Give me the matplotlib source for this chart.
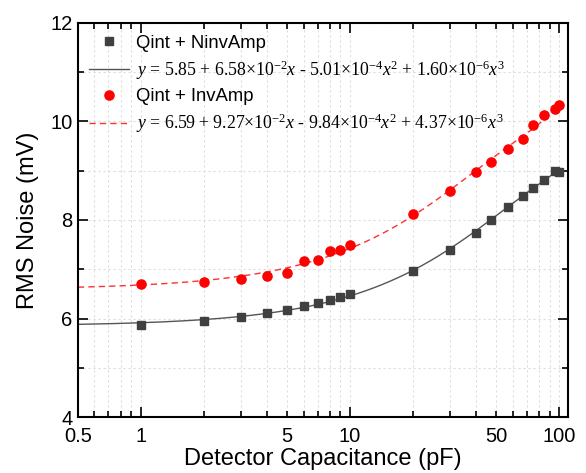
import numpy as np
import matplotlib
matplotlib.use("Agg")
import matplotlib.pyplot as plt
from matplotlib.ticker import LogLocator, FixedLocator, FuncFormatter

plt.rcParams.update({"font.family": "Liberation Sans"})
plt.rcParams.update({"mathtext.fontset": "custom",
                     "mathtext.rm": "Liberation Serif",
                     "mathtext.it": "Liberation Serif:italic"})

# detector capacitance (pF)
cap = [1, 2, 3, 4, 5, 6, 7, 8, 9, 10, 20, 30, 40, 47, 57, 67, 75, 85, 95, 100]
# RMS noise (mV)
noise_ninv = [5.87, 5.95, 6.03, 6.12, 6.17, 6.25, 6.31, 6.38, 6.43, 6.50,
              6.97, 7.40, 7.74, 8.00, 8.27, 8.49, 8.65, 8.82, 9.00, 8.97]
noise_inv = [6.70, 6.75, 6.81, 6.86, 6.92, 7.17, 7.19, 7.37, 7.40, 7.50,
             8.13, 8.59, 8.97, 9.17, 9.44, 9.65, 9.93, 10.12, 10.26, 10.34]

# cubic fit coefficients (a0, a1, a2, a3)
fit_ninv = [5.85, 6.58e-2, -5.01e-4, 1.60e-6]
fit_inv = [6.59, 9.27e-2, -9.84e-4, 4.37e-6]

lab_ninv = "Qint + NinvAmp"
lab_inv = "Qint + InvAmp"
eq_ninv = r"$y$ = 5.85 + 6.58×$10^{-2}x$ - 5.01×$10^{-4}x^{2}$ + 1.60×$10^{-6}x^{3}$"
eq_inv = r"$y$ = 6.59 + 9.27×$10^{-2}x$ - 9.84×$10^{-4}x^{2}$ + 4.37×$10^{-6}x^{3}$"

fig = plt.figure(figsize=(5.86, 4.73), dpi=100)
ax = fig.add_axes([0.133, 0.118, 0.836, 0.834])

xx = np.logspace(np.log10(0.5), 2, 300)
yn = np.polyval(fit_ninv[::-1], xx)
yi = np.polyval(fit_inv[::-1], xx)

ax.plot(cap, noise_ninv, "s", color="#404040", ms=5.8, label=lab_ninv, zorder=3)
ax.plot(xx, yn, "-", color="#555555", lw=1.0, label=eq_ninv, zorder=2)
ax.plot(cap, noise_inv, "o", color="#ff0000", ms=6.6, label=lab_inv, zorder=3)
ax.plot(xx, yi, "--", color="#ff3030", lw=1.0, dashes=(4.5, 3), label=eq_inv, zorder=2)

ax.set_xscale("log")
ax.set_xlim(0.5, 110)
ax.set_ylim(4, 12)

ax.xaxis.set_major_locator(FixedLocator([1, 10, 100]))
ax.xaxis.set_minor_locator(LogLocator(base=10, subs=np.arange(2, 10)))
ax.xaxis.set_major_formatter(FuncFormatter(lambda v, p: "%g" % v))
ax.xaxis.set_minor_formatter(FuncFormatter(lambda v, p: "%g" % v if round(v / 10 ** np.floor(np.log10(v)), 3) == 5 else ""))
ax.yaxis.set_major_locator(FixedLocator([4, 6, 8, 10, 12]))
ax.yaxis.set_minor_locator(FixedLocator([5, 7, 9, 11]))

ax.tick_params(which="both", direction="in", top=True, right=True, labelsize=14.5, width=1.2)
ax.tick_params(axis="x", which="both", pad=7)
ax.tick_params(axis="y", which="both", pad=4)
ax.tick_params(which="major", length=7)
ax.tick_params(which="minor", length=4)
for s in ax.spines.values():
    s.set_linewidth(1.5)

ax.grid(which="both", color="#dddddd", linestyle=(0, (2, 2.5)), linewidth=0.8)
ax.set_axisbelow(True)

ax.set_xlabel("Detector Capacitance (pF)", fontsize=17, labelpad=1.5)
ax.set_ylabel("RMS Noise (mV)", fontsize=17, labelpad=8)

leg = ax.legend(loc="upper left", bbox_to_anchor=(0.022, 0.97), frameon=False,
                fontsize=13.3, handlelength=2.2, handletextpad=0.36, numpoints=1,
                borderaxespad=0, borderpad=0, labelspacing=0.36)
for t in leg.get_texts()[1::2]:
    t.set_family("Liberation Serif")
    t.set_fontsize(12.8)

fig.savefig("out.png", dpi=100)
